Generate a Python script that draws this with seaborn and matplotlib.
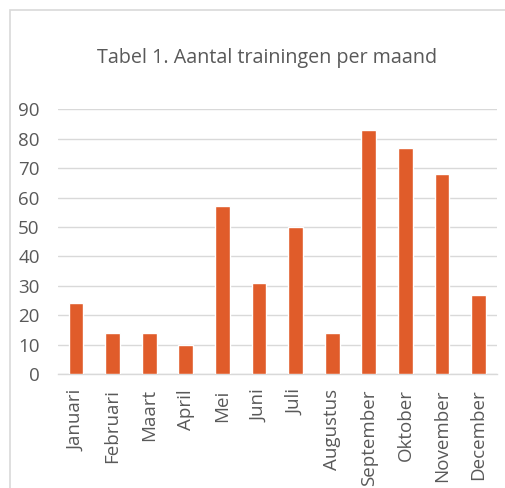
"""
Bar chart: Tabel 1. Aantal trainingen per maand
"""
import matplotlib
matplotlib.use("Agg")
import matplotlib.pyplot as plt
import seaborn as sns
import pandas as pd
from matplotlib.patches import Rectangle

# Data
months = ['Januari', 'Februari', 'Maart', 'April', 'Mei', 'Juni',
          'Juli', 'Augustus', 'September', 'Oktober', 'November', 'December']
trainingen = [24, 14, 14, 10, 57, 31, 50, 14, 83, 77, 68, 27]
y_ticks = [0, 10, 20, 30, 40, 50, 60, 70, 80, 90]
title = 'Tabel 1. Aantal trainingen per maand'

bar_color = '#E05C2A'
text_color = '#595959'
grid_color = '#D9D9D9'

sns.set_style("white")
plt.rcParams['font.family'] = ['Open Sans', 'DejaVu Sans']

df = pd.DataFrame({'maand': months, 'aantal': trainingen})

fig = plt.figure(figsize=(5.06, 4.88), dpi=100)
ax = fig.add_axes([0.114, 0.2336, 0.868, 0.5424])

sns.barplot(data=df, x='maand', y='aantal', color=bar_color,
            width=0.4, saturation=1, ax=ax, zorder=3)

# Axis styling
ax.set_ylim(0, 90)
ax.set_xlim(-0.5, len(months) - 0.5)
ax.set_yticks(y_ticks)
ax.set_xlabel('')
ax.set_ylabel('')
for side in ['top', 'right', 'left']:
    ax.spines[side].set_visible(False)
ax.spines['bottom'].set_color(grid_color)
ax.spines['bottom'].set_linewidth(1.0)
ax.yaxis.grid(True, color=grid_color, linewidth=1.0, zorder=0)
ax.set_axisbelow(True)

ax.tick_params(axis='y', length=0, pad=13, labelsize=13.5, labelcolor=text_color)
ax.tick_params(axis='x', which='major', length=0, pad=11, labelsize=13.5,
               labelcolor=text_color, labelrotation=90)
ax.set_xticks([i - 0.5 for i in range(len(months) + 1)], minor=True)
ax.tick_params(axis='x', which='minor', length=5, color=grid_color, width=1.0)
for lbl in ax.get_yticklabels():
    lbl.set_horizontalalignment('right')

# Title
fig.text(0.528, 0.881, title, ha='center', va='center', fontsize=14.2,
         color=text_color)

# Chart border (runs past the right and bottom edge, as in the screenshot)
fig.patches.append(Rectangle((10 / 506, -0.1), 1.2, 1 - 10 / 488 + 0.1,
                             transform=fig.transFigure, fill=False,
                             edgecolor=grid_color, linewidth=1.2))

fig.savefig('out.png', dpi=100)
